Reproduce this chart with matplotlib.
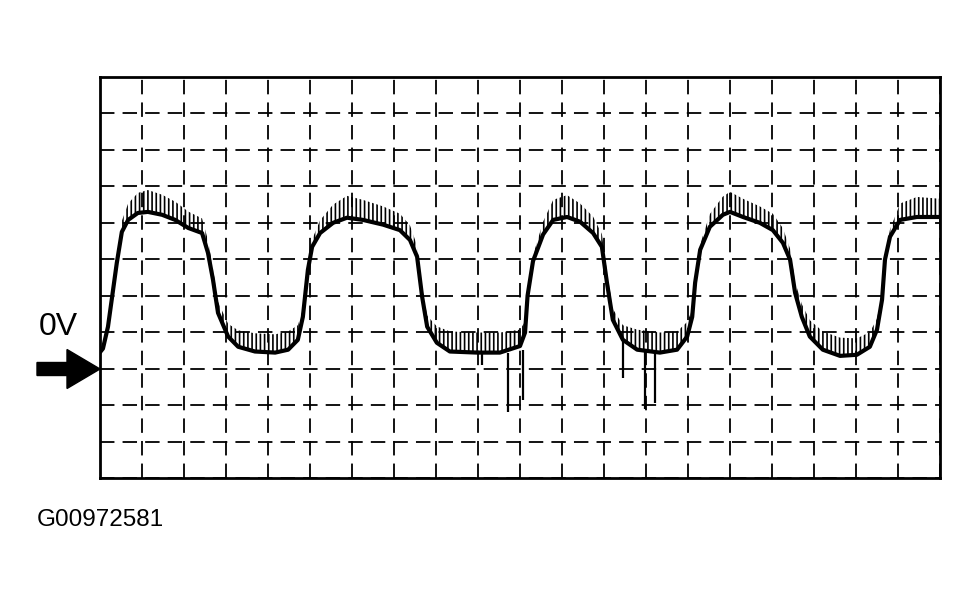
import numpy as np
import matplotlib
matplotlib.use("Agg")
import matplotlib.pyplot as plt
from matplotlib.patches import FancyArrow
from matplotlib.transforms import IdentityTransform

#%% Data (time in divisions, volts in divisions, 0V = 0)
t_div = [0.0, 0.07, 0.19, 0.40, 0.52, 0.67, 0.9, 1.14, 1.48, 1.79, 2.1, 2.43,
         2.57, 2.69, 2.81, 3.05, 3.29, 3.69, 4.17, 4.48, 4.71, 4.83, 4.95, 5.05,
         5.24, 5.55, 5.88, 6.26, 6.74, 7.14, 7.38, 7.55, 7.67, 7.79, 8.02, 8.33,
         8.98, 9.52, 10.0, 10.12, 10.18, 10.31, 10.55, 10.79, 11.12, 11.43, 11.74,
         11.95, 12.07, 12.21, 12.45, 12.79, 13.33, 13.74, 13.98, 14.1, 14.17,
         14.29, 14.52, 14.83, 15.0, 15.31, 15.71, 16.02, 16.26, 16.43, 16.55,
         16.71, 16.9, 17.21, 17.62, 18.02, 18.33, 18.5, 18.62, 18.69, 18.81,
         19.05, 19.45, 20.0]
v_div = [0.45, 0.55, 1.15, 2.9, 3.75, 4.08, 4.27, 4.3, 4.22, 4.08, 3.86, 3.72,
         3.18, 2.44, 1.53, 0.88, 0.60, 0.47, 0.44, 0.52, 0.79, 1.42, 2.71, 3.34,
         3.72, 4.0, 4.14, 4.08, 3.95, 3.8, 3.53, 3.07, 1.97, 1.15, 0.71, 0.47,
         0.44, 0.44, 0.62, 0.99, 2.0, 2.95, 3.68, 4.08, 4.16, 4.03, 3.72,
         3.34, 2.36, 1.34, 0.79, 0.52, 0.44, 0.52, 0.88, 1.42, 2.36,
         3.26, 3.89, 4.22, 4.3, 4.16, 4.0, 3.8, 3.45, 2.99, 2.08,
         1.42, 0.88, 0.52, 0.35, 0.38, 0.6, 1.07, 1.89, 2.99, 3.62,
         4.08, 4.16, 4.16]
# height of the ripple spikes above the trace
ripple = [0.1, 0.1, 0.1, 0.15, 0.3, 0.45, 0.55, 0.6, 0.55, 0.5, 0.45, 0.4,
          0.35, 0.3, 0.3, 0.35, 0.45, 0.5, 0.5, 0.5, 0.4, 0.2, 0.1, 0.2,
          0.35, 0.5, 0.6, 0.55, 0.5, 0.45, 0.4, 0.3, 0.25, 0.3, 0.45, 0.55,
          0.55, 0.55, 0.45, 0.3, 0.1, 0.15, 0.35, 0.55, 0.6, 0.5, 0.45,
          0.35, 0.3, 0.3, 0.4, 0.55, 0.55, 0.5, 0.4, 0.2, 0.1,
          0.15, 0.35, 0.5, 0.55, 0.5, 0.45, 0.45, 0.4, 0.3, 0.3,
          0.35, 0.45, 0.5, 0.5, 0.45, 0.4, 0.3, 0.15, 0.1, 0.2,
          0.45, 0.55, 0.5]

# downward glitches: time, lowest value
glitch_t = [9.1, 9.71, 10.07, 12.45, 12.98, 13.21]
glitch_v = [0.1, -1.2, -0.85, -0.25, -1.12, -0.93]
glitch_base = [0.44, 0.44, 0.5, 0.79, 0.48, 0.45]

#%% Figure
W, H = 979, 602
plt.rcParams["hatch.linewidth"] = 1.2
fig = plt.figure(figsize=(W / 100, H / 100), dpi=100)
ax = fig.add_axes([100 / W, (H - 478) / H, 840 / W, 401 / H])
ax.set_xlim(0, 20)
ax.set_ylim(-3, 8)

ax.set_xticks(range(0, 21))
ax.set_yticks(range(-3, 9))
ax.tick_params(length=0, labelbottom=False, labelleft=False)
ax.grid(True, color="black", linewidth=1.3, linestyle=(0, (8, 4.5)))
ax.set_axisbelow(True)
for s in ax.spines.values():
    s.set_linewidth(2.0)

base = np.array(v_div)
upper = base + np.array(ripple)
ax.fill_between(t_div, base, upper, facecolor="none", edgecolor="black",
                hatch="||||", linewidth=0)
ax.plot(t_div, v_div, color="black", linewidth=3.0, solid_joinstyle="round")
ax.vlines(glitch_t, glitch_base, glitch_v, color="black", linewidth=1.6)

#%% Labels
font = ["Liberation Sans", "DejaVu Sans"]
fig.text(39 / W, (H - 335) / H, "0V", fontsize=23, family=font,
         ha="left", va="baseline")
fig.text(37 / W, (H - 526) / H, "G00972581", fontsize=17.5, family=font,
         ha="left", va="baseline")

arrow = FancyArrow(37, H - 369, 63, 0, width=13, head_width=39, head_length=33,
                   length_includes_head=True, color="black",
                   transform=IdentityTransform())
fig.add_artist(arrow)

fig.savefig("out.png", dpi=100, facecolor="white")
